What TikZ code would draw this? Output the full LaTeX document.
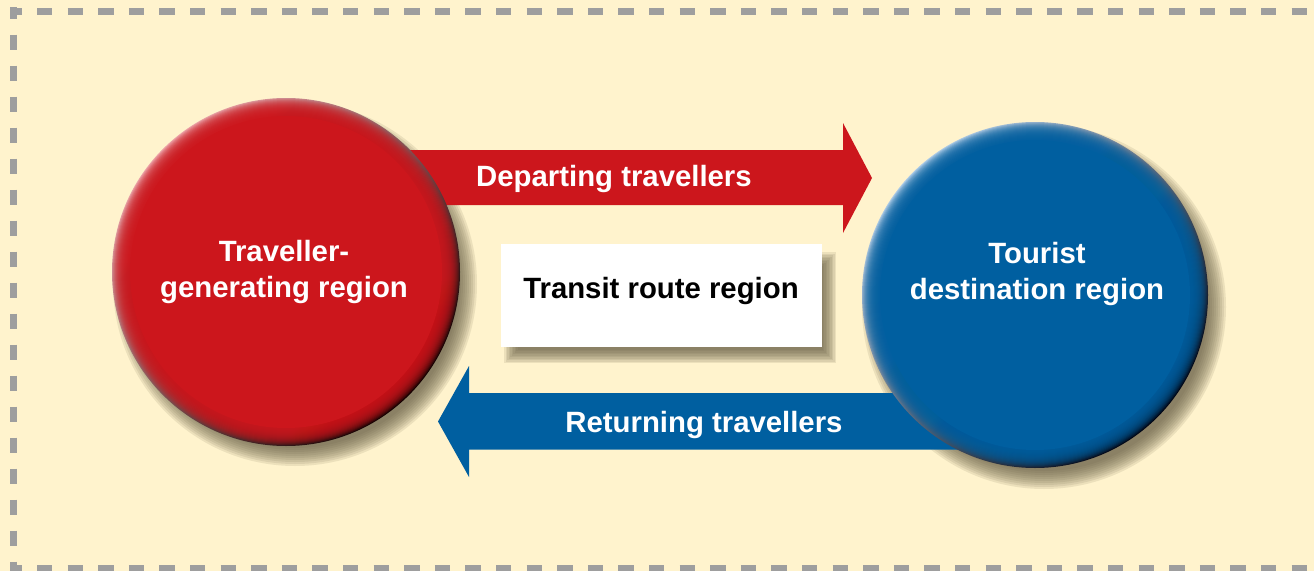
\documentclass[tikz,border=0pt]{standalone}
\usepackage{fontspec}
\setmainfont{Liberation Sans}
\usepackage{tikz}
\usetikzlibrary{calc}

\definecolor{bgcream}{RGB}{255,243,205}
\definecolor{dashgrey}{RGB}{158,158,158}
\definecolor{genred}{RGB}{204,22,28}
\definecolor{genlight}{RGB}{236,160,165}
\definecolor{gendark}{RGB}{20,0,0}
\definecolor{destblue}{RGB}{0,95,160}
\definecolor{destlight}{RGB}{170,202,231}
\definecolor{destdark}{RGB}{0,5,20}
\definecolor{shadowc}{RGB}{100,92,65}

\begin{document}
\begin{tikzpicture}[x=0.75pt,y=0.75pt,yscale=-1,xscale=1,
    hdash/.style={draw=dashgrey,line width=5.25pt,dash pattern=on 11.475pt off 11.475pt,dash phase=2.7pt},
    vdash/.style={draw=dashgrey,line width=5.25pt,dash pattern=on 11.625pt off 11.625pt,dash phase=2.85pt},
    softshadow/.style={fill=shadowc,fill opacity=0.12},
    bigtext/.style={font=\fontsize{22}{27}\selectfont\bfseries,inner sep=0pt,align=center},
    whitetext/.style={bigtext,text=white}]
        \useasboundingbox (0,0) rectangle (1314,571);

        %Shape: Rectangle [background]
        \fill[bgcream] (0,0) rectangle (1314,571);
        %Straight Lines [dashed frame]
        \draw[hdash] (10,11.2) -- (1314,11.2);
        \draw[hdash] (10,568.5) -- (1314,568.5);
        \draw[vdash] (13.8,7.3) -- (13.8,571);

        \coordinate (genc) at (286,272);
        \coordinate (destc) at (1035,295);

        %Shape: soft shadows
        \foreach \k in {0,...,9}{
          \fill[softshadow] ($(genc)+(9,12)$) circle ({182-2*\k});
          \fill[softshadow] ($(destc)+(9,12)$) circle ({182-2*\k});
          \fill[softshadow] ({504+1.5*\k},{252+1.5*\k}) rectangle ({836-1.5*\k},{363-1.5*\k});
        }

        %Shape: Arrow [departing]
        \coordinate (depTail) at (400,177.5);
        \coordinate (depTip) at (872,178);
        \fill[genred] (depTail) ++(0,-27.5) -- ++(443,0) -- ++(0,-27) -- (depTip) -- ++(-29,55) -- ++(0,-28) -- ++(-443,0) -- cycle;
        %Shape: Arrow [returning]
        \coordinate (retTail) at (1000,421);
        \coordinate (retTip) at (438,421.5);
        \fill[destblue] (retTail) ++(0,-28) -- ++(-531,0) -- ++(0,-27) -- (retTip) -- ++(31,55.5) -- ++(0,-27.5) -- ++(531,0) -- cycle;

        %Shape: Rectangle [transit]
        \node (transitBox) [fill=white,minimum width=240.75pt,minimum height=77.25pt,inner sep=0pt] at (661.5,295.5) {};

        %Shape: Circle [generating]
        \shade[top color=genlight,middle color=genred,bottom color=gendark,shading angle=45] (genc) circle (174);
        \foreach \k in {1,...,17}
          \fill[genred,fill opacity=0.16] (genc) circle ({174-\k});
        \fill[genred] (genc) circle (156);
        %Shape: Circle [destination]
        \shade[top color=destlight,middle color=destblue,bottom color=destdark,shading angle=45] (destc) circle (173);
        \foreach \k in {1,...,17}
          \fill[destblue,fill opacity=0.16] (destc) circle ({173-\k});
        \fill[destblue] (destc) circle (155);

        % Text Node
        \node (genLabel) [whitetext] at (284,272) {Traveller-\\generating region};
        % Text Node
        \node (destLabel) [whitetext] at (1037,273.5) {Tourist\\destination region};
        % Text Node
        \node (transitLabel) [bigtext,anchor=base] at (661,298) {Transit route region};
        % Text Node
        \node (depLabel) [whitetext,anchor=base] at (614,186) {Departing travellers};
        % Text Node
        \node (retLabel) [whitetext,anchor=base] at (704,432) {Returning travellers};
\end{tikzpicture}
\end{document}
